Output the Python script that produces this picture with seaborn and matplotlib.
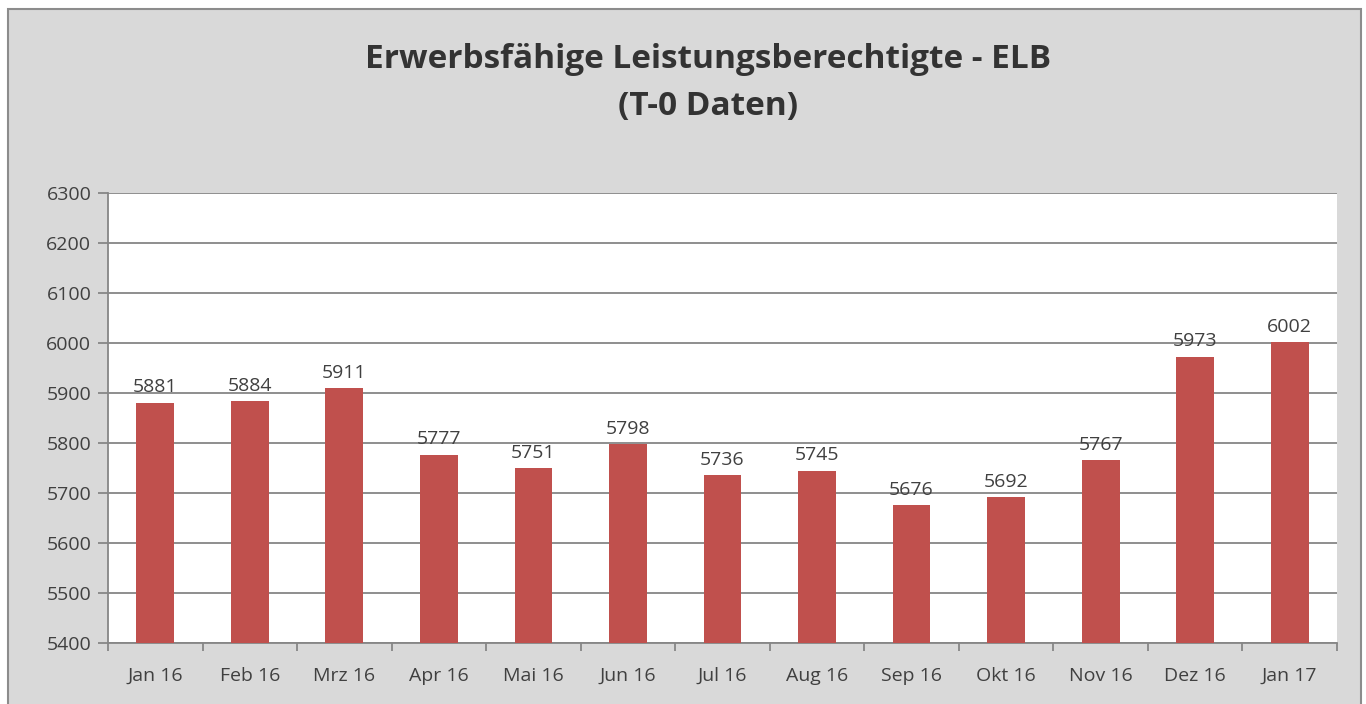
import matplotlib
matplotlib.use("Agg")
import matplotlib.pyplot as plt
from matplotlib.patches import Rectangle
from matplotlib.ticker import FixedLocator
import pandas as pd
import seaborn as sns

# Daten
monate = ["Jan 16", "Feb 16", "Mrz 16", "Apr 16", "Mai 16", "Jun 16", "Jul 16",
          "Aug 16", "Sep 16", "Okt 16", "Nov 16", "Dez 16", "Jan 17"]
elb = [5881, 5884, 5911, 5777, 5751, 5798, 5736, 5745, 5676, 5692, 5767, 5973, 6002]
y_ticks = [5400, 5500, 5600, 5700, 5800, 5900, 6000, 6100, 6200, 6300]

df = pd.DataFrame({"Monat": monate, "ELB": elb})

sns.set_theme(style="white")
plt.rcParams["font.family"] = ["Open Sans", "DejaVu Sans"]

text_col = "#404040"
grid_col = "#868686"
bar_col = "#c0504d"
fs = 14

fig = plt.figure(figsize=(13.66, 7.04), dpi=100)
fig.patch.set_facecolor("white")
# grauer Hintergrund mit Rahmen
fig.patches.append(Rectangle((8 / 1366, -0.02), (1361 - 8) / 1366, (704 - 9) / 704 + 0.02,
                             transform=fig.transFigure, facecolor="#d9d9d9",
                             edgecolor="#8c8c8c", linewidth=1.5, zorder=-10))

ax = fig.add_axes([108 / 1366, (704 - 643) / 704, (1337 - 108) / 1366, (643 - 193) / 704])
ax.set_facecolor("white")

sns.barplot(data=df, x="Monat", y="ELB", color=bar_col, saturation=1, width=0.4,
            linewidth=0, ax=ax, zorder=3)

ax.set_ylim(5400, 6300)
ax.set_xlim(-0.5, len(monate) - 0.5)
ax.set_yticks(y_ticks)
ax.yaxis.grid(True, color=grid_col, linewidth=1.3, zorder=0)
ax.set_axisbelow(True)

for s in ["top", "right"]:
    ax.spines[s].set_visible(False)
for s in ["left", "bottom"]:
    ax.spines[s].set_color(grid_col)
    ax.spines[s].set_linewidth(1.3)

ax.tick_params(axis="y", which="major", left=True, length=7, width=1.3, color=grid_col,
               labelsize=fs, labelcolor=text_col, pad=5)
ax.tick_params(axis="x", which="major", bottom=False, labelsize=fs, labelcolor=text_col, pad=11)
ax.xaxis.set_minor_locator(FixedLocator([i - 0.5 for i in range(len(monate) + 1)]))
ax.tick_params(axis="x", which="minor", bottom=True, length=6, width=1.3, color=grid_col)

ax.set_xlabel("")
ax.set_ylabel("")

# Datenbeschriftungen
for i, v in enumerate(elb):
    ax.text(i, v + 12, str(v), ha="center", va="bottom", fontsize=fs, color=text_col, zorder=4)

fig.text(708 / 1366, 1 - 60 / 704, "Erwerbsfähige Leistungsberechtigte - ELB",
         ha="center", va="center", fontsize=24, fontweight="bold", color="#333333")
fig.text(708 / 1366, 1 - 107 / 704, "(T-0 Daten)",
         ha="center", va="center", fontsize=24, fontweight="bold", color="#333333")

fig.savefig("out.png", dpi=100, facecolor=fig.get_facecolor())
